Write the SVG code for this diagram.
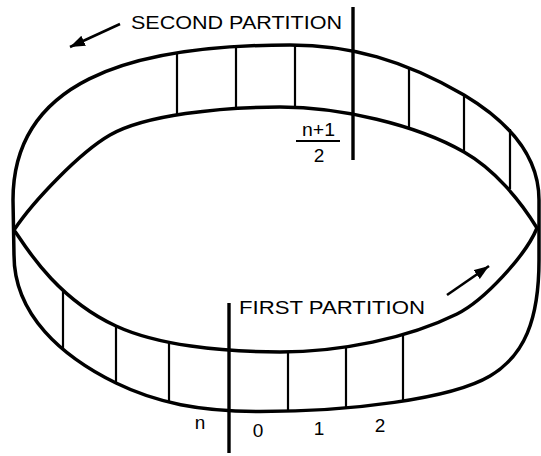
<svg xmlns="http://www.w3.org/2000/svg" width="541" height="456" viewBox="0 0 541 456">
<style>
.rim{fill:none;stroke:#000;stroke-width:3.5;stroke-linejoin:round;stroke-linecap:round}
.seg{stroke:#000;stroke-width:2.2;stroke-linecap:butt}
.part{stroke:#000;stroke-width:3.4;stroke-linecap:butt}
.arr{stroke:#000;stroke-width:2.6;fill:none;marker-end:url(#head)}
.lbl{font-family:"Liberation Sans",Arial,Helvetica,sans-serif;font-size:19px;fill:#000}
</style>
<defs>
<marker id="head" markerUnits="userSpaceOnUse" markerWidth="15" markerHeight="11" viewBox="0 0 15 11" refX="15" refY="5.5" orient="auto">
<path d="M0,0 L15,5.5 L0,11 z" fill="#000"/>
</marker>
</defs>
<rect width="541" height="456" fill="#fff"/>
<g id="ring">
<path id="outer-rim" class="rim" d="M13,200 C13,83.75 124,45 290,45 C350,45 404,60 464,95 C534,137 539,180 539,200 L539,260 C539,320 524.4,355.6 490,376 C451.3,399 350,411.5 260,411.5 C200,411.5 156.4,402.8 116,383 C62.1,356.6 14,315 14,255 Z"/>
<path id="inner-rim" class="rim" d="M14,230 C33.3,201 79.7,152.5 110,135 C144.7,115 220,107 280,107 C340,107 416.3,124.6 464,152 C494,169 520,200 537,228 C525.6,255.75 483.9,300.7 457,314 C407.7,338.4 340,352 280,352 C220,352 156.9,344.9 116,326 C52.4,296.6 21.4,239.5 14,230 Z"/>
</g>
<g id="cells">
<line class="seg" x1="177" y1="53" x2="177" y2="115"/>
<line class="seg" x1="236" y1="46.5" x2="236" y2="108.5"/>
<line class="seg" x1="295" y1="45" x2="295" y2="107.2"/>
<line class="seg" x1="409" y1="68" x2="409" y2="129"/>
<line class="seg" x1="464" y1="95" x2="464" y2="152"/>
<line class="seg" x1="510" y1="129" x2="510" y2="189"/>
<line class="seg" x1="63" y1="290" x2="63" y2="348"/>
<line class="seg" x1="116" y1="326" x2="116" y2="383"/>
<line class="seg" x1="169" y1="342" x2="169" y2="402"/>
<line class="seg" x1="288" y1="352" x2="288" y2="411"/>
<line class="seg" x1="346" y1="347" x2="346" y2="408"/>
<line class="seg" x1="403" y1="334" x2="403" y2="400.5"/>
</g>
<g id="second-partition">
<line class="part" x1="353" y1="7" x2="353" y2="160"/>
<text class="lbl" x="131" y="28.5" textLength="211" lengthAdjust="spacingAndGlyphs">SECOND PARTITION</text>
<text class="lbl" x="302" y="136" textLength="33" lengthAdjust="spacingAndGlyphs">n+1</text>
<line stroke="#000" stroke-width="2" x1="296" y1="141" x2="340" y2="141"/>
<text class="lbl" x="319" y="162" text-anchor="middle">2</text>
</g>
<g id="first-partition">
<line class="part" x1="229" y1="303" x2="229" y2="453"/>
<text class="lbl" x="239" y="314" textLength="186" lengthAdjust="spacingAndGlyphs">FIRST PARTITION</text>
</g>
<g id="labels">
<text class="lbl" x="200" y="429" text-anchor="middle">n</text>
<text class="lbl" x="258" y="437" text-anchor="middle">0</text>
<text class="lbl" x="319" y="435" text-anchor="middle">1</text>
<text class="lbl" x="380" y="432" text-anchor="middle">2</text>
</g>
<g id="connectors">
<path class="arr" d="M120,24 L70,47"/>
<path class="arr" d="M447,295 L489,266"/>
</g>
</svg>
